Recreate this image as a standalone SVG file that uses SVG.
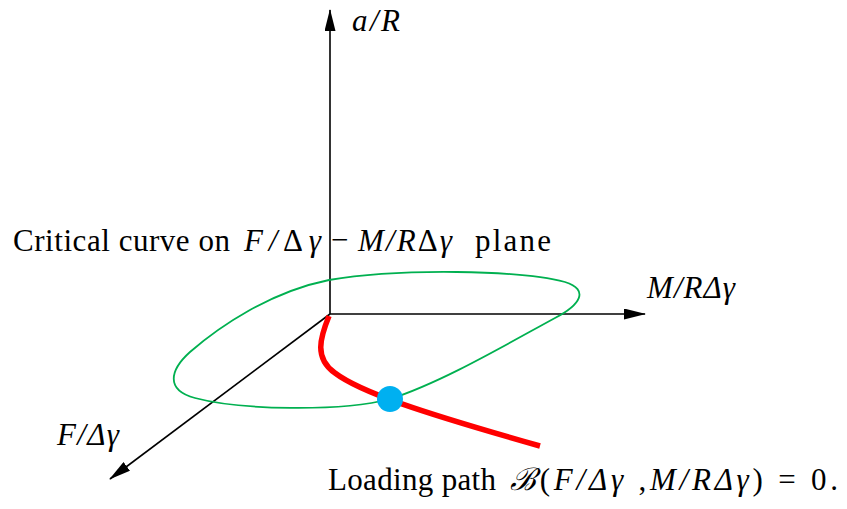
<svg xmlns="http://www.w3.org/2000/svg" width="847" height="509" viewBox="0 0 847 509">
<style>
.ax{stroke:#000;stroke-width:1.6;fill:none}
.t{font-family:"Liberation Serif","DejaVu Serif",serif;fill:#000;font-size:31px}
.m{font-style:italic}
.u{font-style:normal}
</style>
<defs>
<marker id="ah" viewBox="0 0 22 11" refX="21" refY="5.5" markerWidth="22" markerHeight="11" markerUnits="userSpaceOnUse" orient="auto">
<path d="M0,0 L22,5.5 L0,11 Z" fill="#000"/>
</marker>
</defs>
<g id="connectors">
<line class="ax" x1="330" y1="314" x2="330" y2="10" marker-end="url(#ah)"/>
<line class="ax" x1="330" y1="314" x2="645" y2="314" marker-end="url(#ah)"/>
<line class="ax" x1="330" y1="314" x2="110" y2="479" marker-end="url(#ah)"/>
</g>
<g id="critical-curve">
<path d="M 329 280 C 400 268, 520 270, 565 282 C 590 290, 580 305, 555 318 C 500 348, 440 383, 390 399 C 340 412, 240 410, 195 398 C 165 390, 170 370, 190 352 C 220 326, 270 292, 329 280 Z" fill="none" stroke="#00B050" stroke-width="1.8"/>
</g>
<g id="loading-path">
<path d="M 329 316 C 320 338, 314 358, 335 373 C 360 392, 420 412, 540 446" fill="none" stroke="#FF0000" stroke-width="5.5"/>
</g>
<g id="point">
<circle cx="390" cy="399" r="13" fill="#00B0F0"/>
</g>
<g id="labels">
<text class="t m" x="352" y="31" font-size="27" textLength="48">a/R</text>
<text class="t m" x="647" y="298" font-size="27" textLength="88">M/RΔγ</text>
<text class="t m" x="57" y="445" font-size="27" textLength="62">F/Δγ</text>
<text class="t" x="13" y="251" textLength="217">Critical curve on</text>
<text class="t m" x="244" y="251" textLength="77">F/<tspan class="u">Δ</tspan>γ</text>
<text class="t" x="331" y="250">−</text>
<text class="t m" x="358" y="251" textLength="94">M/R<tspan class="u">Δ</tspan>γ</text>
<text class="t" x="475" y="251" textLength="76">plane</text>
<text class="t" x="328" y="490" textLength="168">Loading path</text>
<text class="t" x="510" y="490" textLength="328"><tspan class="m">ℬ</tspan>(<tspan class="m">F/Δγ</tspan> ,<tspan class="m">M/RΔγ</tspan>) = 0.</text>
</g>
</svg>
